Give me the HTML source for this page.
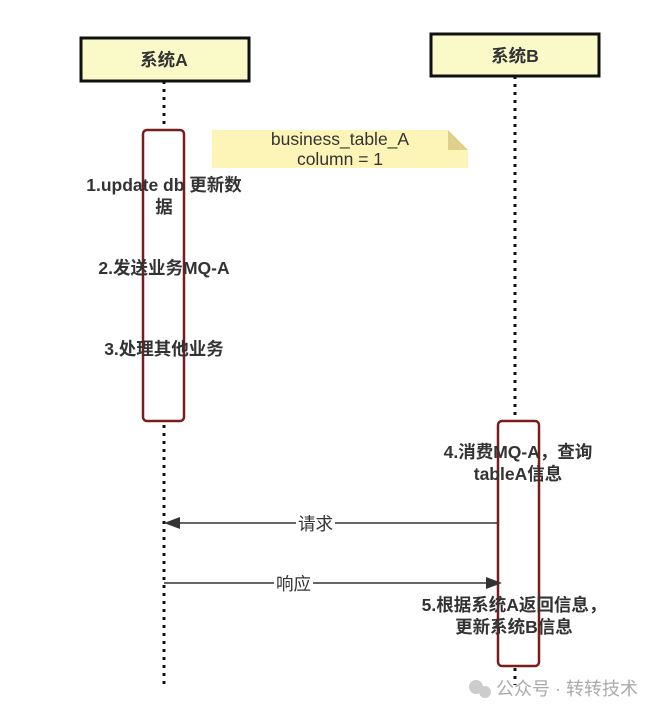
<!DOCTYPE html>
<html><head><meta charset="utf-8"><style>
body{margin:0;width:670px;height:717px;background:#fff;overflow:hidden;position:relative;font-family:"Liberation Sans","Noto Sans CJK SC",sans-serif}
.t{position:absolute;font-weight:bold;font-size:17.5px;color:#333;text-align:center;white-space:nowrap;line-height:22px}
</style></head><body>
<svg width="670" height="717" style="position:absolute;left:0;top:0">
<line x1="164" y1="81" x2="164" y2="685" stroke="#111" stroke-width="3" stroke-dasharray="3,5"/>
<line x1="515" y1="76" x2="515" y2="685" stroke="#111" stroke-width="3" stroke-dasharray="3,5"/>
<rect x="81" y="38" width="168" height="43" fill="#fafac8" stroke="#111" stroke-width="3"/>
<rect x="431" y="34" width="168" height="42" fill="#fafac8" stroke="#111" stroke-width="3"/>
<rect x="143" y="130" width="41" height="291" rx="4" fill="#fff" stroke="#7a1c1c" stroke-width="2.5"/>
<rect x="498" y="421" width="41" height="245" rx="4" fill="#fff" stroke="#7a1c1c" stroke-width="2.5"/>
<polygon points="212,130 448,130 468,150 468,168 212,168" fill="#fdf5b8"/>
<polygon points="448,130 468,150 448,150" fill="#e0cf8a"/>
<line x1="497" y1="523" x2="172" y2="523" stroke="#333" stroke-width="1.5"/>
<polygon points="164,523 180,517 180,529" fill="#333"/>
<line x1="164" y1="583" x2="490" y2="583" stroke="#333" stroke-width="1.5"/>
<polygon points="502,583 486,577 486,589" fill="#333"/>
<circle cx="476" cy="687" r="7" fill="#ccc"/><circle cx="485" cy="692" r="6" fill="#ccc"/>
</svg>
<div class="t" style="left:64px;width:200px;top:49px">系统A</div>
<div class="t" style="left:415px;width:200px;top:45px">系统B</div>
<div class="t" style="left:212px;width:256px;top:129px;font-weight:normal;font-size:17.5px;line-height:20px">business_table_A<br>column = 1</div>
<div class="t" style="left:64px;width:200px;top:174px">1.update db 更新数<br>据</div>
<div class="t" style="left:64px;width:200px;top:257px">2.发送业务MQ-A</div>
<div class="t" style="left:64px;width:200px;top:338px">3.处理其他业务</div>
<div class="t" style="left:418px;width:200px;top:441px">4.消费MQ-A，查询<br>tableA信息</div>
<div class="t" style="left:393px;width:242px;top:594px">5.根据系统A返回信息，<br>更新系统B信息</div>
<div class="t" style="left:296px;top:513px;font-weight:normal;background:#fff;padding:0 2px">请求</div>
<div class="t" style="left:274px;top:573px;font-weight:normal;background:#fff;padding:0 2px">响应</div>
<div class="t" style="left:496px;top:678px;font-weight:normal;color:#aaa;font-size:18px">公众号 · 转转技术</div>
</body></html>
